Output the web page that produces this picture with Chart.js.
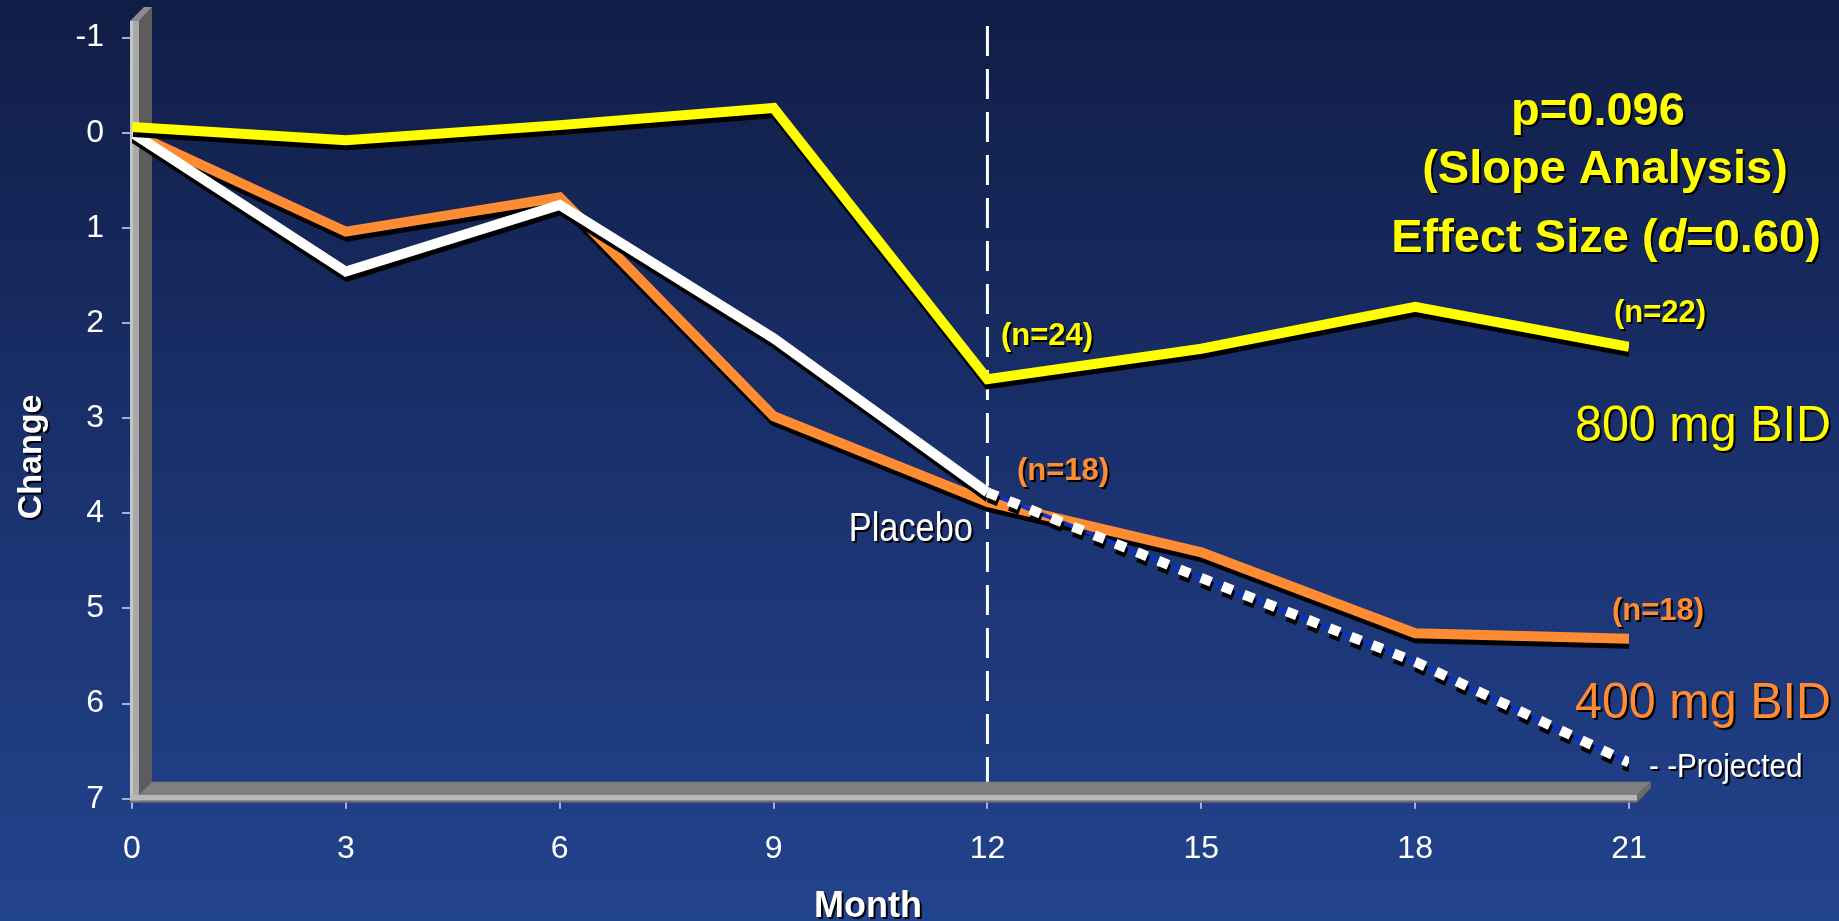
<!DOCTYPE html>
<html lang="en">

<head>
    <meta charset="UTF-8">
    <title>Change by Month</title>
    <style>
        html, body { margin: 0; padding: 0; background: #1a306b; overflow: hidden; }
        canvas { display: block; }
    </style>
</head>

<body>
    <canvas id="grafico" width="1839" height="921" style="width:1839px;height:921px"></canvas>

    <script src="https://cdn.jsdelivr.net/npm/chart.js"></script>
    <script>
        // months on the x axis
        const meses = [0, 3, 6, 9, 12, 15, 18, 21];
        const dose800 = [-0.06, 0.08, -0.08, -0.26, 2.59, 2.27, 1.83, 2.25];
        const dose400 = [0, 1.04, 0.68, 2.98, 3.88, 4.41, 5.26, 5.32];
        const placebo = [0, 1.46, 0.76, 2.16, 3.78, null, null, null];
        const projetado = [null, null, null, null, 3.78, 4.68, 5.56, 6.62];
        const ticksY = [-1, 0, 1, 2, 3, 4, 5, 6, 7];
        const mesCorte = 12;

        const pontos = (arr) => meses.map((m, i) => ({ x: m, y: arr[i] }));

        const fundo = {
            id: 'fundo',
            beforeDraw(chart) {
                const c = chart.ctx;
                const g = c.createLinearGradient(0, 0, 0, chart.height);
                g.addColorStop(0, '#101d46');
                g.addColorStop(0.5, '#1a316d');
                g.addColorStop(1, '#22438d');
                c.save();
                c.fillStyle = g;
                c.fillRect(0, 0, chart.width, chart.height);
                c.restore();
            }
        };

        // gray 3D walls + dashed divider at month 12
        const paredes = {
            id: 'paredes',
            beforeDatasetsDraw(chart) {
                const c = chart.ctx;
                const a = chart.chartArea;
                const L = a.left, R = a.right, B = a.bottom, T = 21;
                const poly = (pts, cor) => {
                    c.beginPath();
                    c.moveTo(pts[0][0], pts[0][1]);
                    for (let i = 1; i < pts.length; i++) c.lineTo(pts[i][0], pts[i][1]);
                    c.closePath();
                    c.fillStyle = cor;
                    c.fill();
                };
                c.save();
                // left wall
                poly([[L + 7, T], [L + 20, T - 14], [L + 20, B - 17], [L + 7, B - 4]], '#5c5c5c');
                poly([[L - 2, T], [L + 12, T - 14], [L + 20, T - 14], [L + 7, T]], '#8c8c8c');
                poly([[L - 2, T], [L + 7, T], [L + 7, B + 2], [L - 2, B + 2]], '#a9a9a9');
                poly([[L - 2, T], [L + 1, T], [L + 1, B + 2], [L - 2, B + 2]], '#c4c4c4');
                // floor
                poly([[L + 7, B - 4], [L + 20, B - 17], [R + 22, B - 17], [R + 8, B - 4]], '#7f7f7f');
                poly([[L - 2, B - 4], [R + 8, B - 4], [R + 8, B + 2], [L - 2, B + 2]], '#b8b8b8');
                poly([[L - 2, B + 2], [R + 8, B + 2], [R + 8, B + 4], [L - 2, B + 4]], '#6e6e6e');
                poly([[R + 8, B - 4], [R + 22, B - 17], [R + 22, B - 11], [R + 8, B + 4]], '#6a6a6a');

                const xc = chart.scales.x.getPixelForValue(mesCorte);
                c.beginPath();
                c.setLineDash([30, 13]);
                c.lineWidth = 3;
                c.strokeStyle = '#ffffff';
                c.moveTo(xc, 26);
                c.lineTo(xc, B - 17);
                c.stroke();
                c.restore();
            }
        };

        const sombraLinhas = {
            id: 'sombraLinhas',
            beforeDatasetDraw(chart, args) {
                if (!chart.data.datasets[args.index].sombra) return;
                const c = chart.ctx;
                c.save();
                c.shadowColor = '#000000';
                c.shadowOffsetX = 1;
                c.shadowOffsetY = 5;
                c.shadowBlur = 0;
            },
            afterDatasetDraw(chart, args) {
                if (chart.data.datasets[args.index].sombra) chart.ctx.restore();
            }
        };

        function texto(c, str, x, y, opt) {
            c.save();
            c.font = opt.font;
            c.textAlign = opt.align || 'left';
            c.textBaseline = 'alphabetic';
            c.fillStyle = opt.cor;
            c.shadowColor = '#000000';
            c.shadowOffsetX = 2;
            c.shadowOffsetY = 2;
            c.translate(x, y);
            if (opt.rot) c.rotate(opt.rot);
            if (opt.sx) c.scale(opt.sx, 1);
            c.fillText(str, 0, 0);
            c.restore();
        }

        const rotulos = {
            id: 'rotulos',
            afterDraw(chart) {
                const c = chart.ctx;
                const amarelo = '#ffff00', laranja = '#ff8c33', branco = '#ffffff';
                const negrito = (s) => `bold ${s}px 'Liberation Sans', Arial, sans-serif`;
                const normal = (s) => `${s}px 'Liberation Sans', Arial, sans-serif`;

                texto(c, 'p=0.096', 1598, 125, { font: negrito(47), cor: amarelo, align: 'center' });
                texto(c, '(Slope Analysis)', 1605, 183, { font: negrito(47), cor: amarelo, align: 'center' });

                // "Effect Size (d=0.60)" with italic d
                c.save();
                const partes = [['Effect Size (', negrito(47)], ['d', 'italic ' + negrito(47)], ['=0.60)', negrito(47)]];
                let w = 0;
                partes.forEach(p => { c.font = p[1]; w += c.measureText(p[0]).width; });
                let x = 1606 - w / 2;
                partes.forEach(p => {
                    texto(c, p[0], x, 252, { font: p[1], cor: amarelo });
                    c.font = p[1];
                    x += c.measureText(p[0]).width;
                });
                c.restore();

                texto(c, '(n=24)', 1001, 345, { font: negrito(31), cor: amarelo });
                texto(c, '(n=22)', 1614, 322, { font: negrito(31), cor: amarelo });
                texto(c, '800 mg BID', 1831, 441, { font: normal(50), cor: amarelo, align: 'right', sx: 0.97 });
                texto(c, '(n=18)', 1017, 480, { font: negrito(31), cor: laranja });
                texto(c, '(n=18)', 1612, 620, { font: negrito(31), cor: laranja });
                texto(c, '400 mg BID', 1831, 718, { font: normal(50), cor: laranja, align: 'right', sx: 0.97 });
                texto(c, 'Placebo', 973, 541, { font: normal(40), cor: branco, align: 'right', sx: 0.86 });
                texto(c, '- -Projected', 1649, 777, { font: normal(33), cor: branco, sx: 0.9 });

                texto(c, 'Change', 41, 457, { font: negrito(34), cor: branco, align: 'center', rot: -Math.PI / 2 });
                texto(c, 'Month', 868, 917, { font: negrito(36), cor: branco, align: 'center' });
            }
        };

        const fonteTicks = { family: "'Liberation Sans', Arial, sans-serif", size: 32 };

        new Chart(document.getElementById('grafico'), {
            type: 'line',
            data: {
                datasets: [
                    {
                        label: '800 mg BID',
                        data: pontos(dose800),
                        borderColor: '#ffff00',
                        borderWidth: 10,
                        sombra: true
                    },
                    {
                        label: 'Projected',
                        data: pontos(projetado),
                        borderColor: '#ffffff',
                        borderWidth: 10,
                        borderDash: [11, 12],
                        sombra: true
                    },
                    {
                        label: 'Projected (base)',
                        data: pontos(projetado),
                        borderColor: '#0b34c4',
                        borderWidth: 4,
                        borderDash: [11, 12],
                        borderDashOffset: 11,
                        sombra: false
                    },
                    {
                        label: 'Placebo',
                        data: pontos(placebo),
                        borderColor: '#ffffff',
                        borderWidth: 10,
                        sombra: true
                    },
                    {
                        label: '400 mg BID',
                        data: pontos(dose400),
                        borderColor: '#ff8c33',
                        borderWidth: 10,
                        sombra: true
                    }
                ]
            },
            options: {
                responsive: false,
                animation: false,
                spanGaps: false,
                layout: { padding: { top: 37.6, right: 210, left: 0, bottom: 0 } },
                elements: {
                    point: { radius: 0, hoverRadius: 0 },
                    line: { tension: 0, borderJoinStyle: 'miter', borderCapStyle: 'butt', fill: false }
                },
                plugins: { legend: { display: false }, tooltip: { enabled: false } },
                scales: {
                    x: {
                        type: 'linear',
                        min: 0,
                        max: 21,
                        afterBuildTicks(s) { s.ticks = meses.map(v => ({ value: v })); },
                        ticks: { color: '#ffffff', font: fonteTicks, padding: 21, maxRotation: 0 },
                        grid: { drawOnChartArea: false, tickLength: 10, color: '#a8b0d0', lineWidth: 2 },
                        border: { display: false },
                        afterFit(s) { s.height = 122.3; }
                    },
                    y: {
                        min: -1,
                        max: 7,
                        reverse: true,
                        afterBuildTicks(s) { s.ticks = ticksY.map(v => ({ value: v })); },
                        ticks: { color: '#ffffff', font: fonteTicks, padding: 18 },
                        grid: { drawOnChartArea: false, tickLength: 10, color: '#a8b0d0', lineWidth: 2 },
                        border: { display: false },
                        afterFit(s) { s.width = 132; }
                    }
                }
            },
            plugins: [fundo, paredes, sombraLinhas, rotulos]
        });
    </script>
</body>

</html>
